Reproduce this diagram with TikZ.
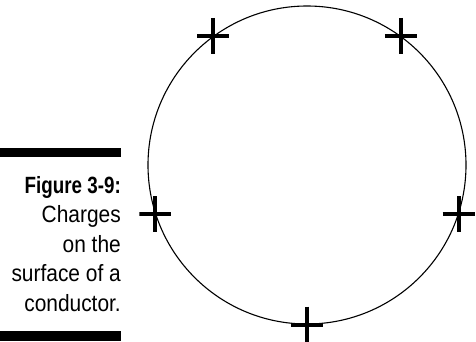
\documentclass[tikz,border=0pt]{standalone}
\usepackage{fontspec}
\setmainfont{Liberation Sans}[FakeStretch=0.89,BoldFeatures={FakeStretch=0.80}]

\begin{document}
\begin{tikzpicture}[
            x=1pt, y=-1pt,
            cond/.style={draw,circle,line width=1.1pt,minimum size=318pt,inner sep=0pt},
            charge/.style={minimum width=32pt,minimum height=36pt,inner sep=0pt,
                path picture={\draw[line width=4pt]
                    (path picture bounding box.west) -- (path picture bounding box.east)
                    (path picture bounding box.north) -- (path picture bounding box.south);}},
            figcap/.style={align=right,inner sep=0pt,font=\fontsize{23.5pt}{29.5pt}\selectfont},
            bar/.style={fill=black}
        ]

        \useasboundingbox (0,0) rectangle (476,341);

        \node[cond] (conductor) at (307,165) {};

        % charges sitting on the surface
        \node[charge] (q1) at (conductor.126) {};
        \node[charge] (q2) at (conductor.54) {};
        \node[charge] (q3) at (conductor.198) {};
        \node[charge] (q4) at (conductor.-18) {};
        \node[charge] (q5) at (conductor.270) {};

        % caption
        \fill[bar] (0,148) rectangle (121,157);
        \node[figcap,anchor=north east] (caption) at (121,176)
            {\textbf{Figure 3-9:}\\Charges\\on the\\surface of a\\conductor.};
        \fill[bar] (0,331) rectangle (121,341);

    \end{tikzpicture}
\end{document}
